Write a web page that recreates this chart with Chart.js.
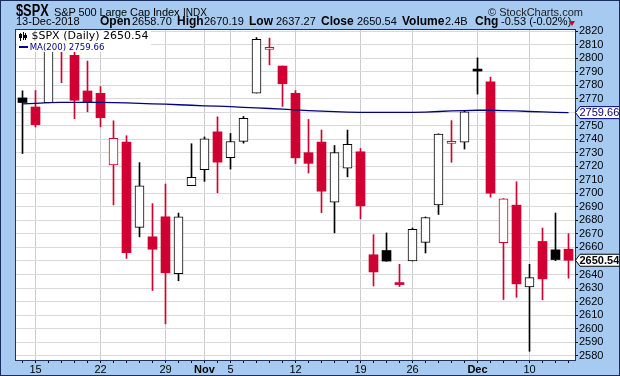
<!DOCTYPE html>
<html>
<head>
<meta charset="utf-8">
<script src="https://cdn.jsdelivr.net/npm/chart.js@4.4.1/dist/chart.umd.min.js"></script>
<style>
  html, body { margin:0; padding:0; }
  #wrap { position:relative; width:620px; height:376px; background:#a6caf0; overflow:hidden; font-family:"Liberation Sans", Arial, sans-serif; color:#000; }
  #c { position:absolute; left:0; top:0; }
  .t { position:absolute; white-space:nowrap; line-height:1; }
  .b { font-weight:bold; font-size:12px; }
  .n { font-size:11px; }
  #outer { position:absolute; left:0; top:0; width:620px; height:376px; box-sizing:border-box; border:1px solid #1c2c5c; pointer-events:none; }
  #legend { position:absolute; left:17px; top:31px; width:134px; height:21px; background:#fff; }
  .dv { font-family:"DejaVu Sans", Verdana, sans-serif; }
</style>
</head>
<body>
<div id="wrap">
  <canvas id="c" width="620" height="376"></canvas>

  <div class="t" style="left:16px;top:2.5px;font-size:16px;font-weight:bold;transform:scaleX(0.8);transform-origin:left top;">$SPX</div>
  <div class="t" style="left:54px;top:6.7px;font-size:11px;letter-spacing:-0.1px;">S&amp;P 500 Large Cap Index</div>
  <div class="t" style="left:183px;top:7.5px;font-size:10px;">INDX</div>
  <div class="t" style="left:488px;top:6.7px;font-size:11px;color:#222;">© StockCharts.com</div>

  <div class="t n" style="left:16px;top:16.2px;">13-Dec-2018</div>
  <div class="t b" style="left:100px;top:15.3px;">Open</div>
  <div class="t n" style="left:132px;top:16.2px;">2658.70</div>
  <div class="t b" style="left:177px;top:15.3px;">High</div>
  <div class="t n" style="left:204px;top:16.2px;">2670.19</div>
  <div class="t b" style="left:249px;top:15.3px;">Low</div>
  <div class="t n" style="left:276px;top:16.2px;">2637.27</div>
  <div class="t b" style="left:321px;top:15.3px;">Close</div>
  <div class="t n" style="left:357px;top:16.2px;">2650.54</div>
  <div class="t b" style="left:402px;top:15.3px;">Volume</div>
  <div class="t n" style="left:445px;top:16.2px;">2.4B</div>
  <div class="t b" style="left:475px;top:15.3px;">Chg</div>
  <div class="t n" style="left:501px;top:16.2px;">-0.53 (-0.02%)</div>
  <div style="position:absolute;left:569px;top:21px;width:0;height:0;border-left:3.5px solid transparent;border-right:3.5px solid transparent;border-top:5px solid #d00032;"></div>

  <div id="legend">
    <div style="position:absolute;left:3px;top:2px;width:1px;height:8px;background:#000;"></div>
    <div style="position:absolute;left:2px;top:3px;width:3px;height:4px;background:#000;"></div>
    <div style="position:absolute;left:6px;top:1px;width:1px;height:8px;background:#000;"></div>
    <div style="position:absolute;left:8px;top:2px;width:1px;height:7px;background:#000;"></div>
    <div style="position:absolute;left:7px;top:4px;width:3px;height:3px;background:#000;"></div>
    <div style="position:absolute;left:2px;top:15px;width:9px;height:2px;background:#000080;"></div>
  </div>
  <div class="t dv" style="left:31.5px;top:29.7px;font-size:11px;">$SPX (Daily) 2650.54</div>
  <div class="t dv" style="left:29.7px;top:43px;font-size:8.6px;color:#000080;">MA(200) 2759.66</div>

  <div id="outer"></div>
</div>
<script>
const categories = ['10-12','10-15','10-16','10-17','10-18','10-19','10-22','10-23','10-24','10-25','10-26','10-29','10-30','10-31','11-01','11-02','11-05','11-06','11-07','11-08','11-09','11-12','11-13','11-14','11-15','11-16','11-19','11-20','11-21','11-23','11-26','11-27','11-28','11-29','11-30','12-03','12-04','12-06','12-07','12-10','12-11','12-12','12-13'];
const open  = [2770.54,2763.83,2767.05,2811.67,2802.00,2775.66,2773.94,2721.03,2737.87,2674.88,2667.86,2682.65,2640.68,2705.60,2717.58,2745.45,2726.37,2738.40,2774.13,2806.38,2794.10,2773.93,2730.05,2737.90,2693.52,2718.54,2730.74,2654.60,2657.74,2633.36,2649.97,2663.75,2691.45,2736.97,2737.76,2790.50,2782.43,2663.51,2691.26,2630.86,2664.44,2658.23,2658.70];
const high  = [2775.77,2775.99,2813.46,2816.94,2806.04,2797.77,2778.94,2753.59,2742.59,2722.70,2692.38,2706.85,2685.43,2736.69,2741.67,2756.55,2744.27,2756.82,2815.15,2814.75,2794.10,2775.99,2754.60,2746.80,2735.38,2746.75,2733.16,2669.44,2670.73,2647.55,2674.35,2682.53,2744.00,2753.75,2760.88,2800.18,2785.93,2696.15,2708.54,2647.51,2674.35,2685.44,2670.19];
const low   = [2729.44,2749.03,2766.91,2781.81,2755.18,2760.27,2749.22,2691.43,2651.89,2667.84,2628.16,2603.54,2635.34,2705.60,2708.85,2700.44,2717.94,2737.08,2774.13,2794.99,2764.24,2722.00,2714.98,2685.75,2670.75,2712.16,2681.09,2631.52,2649.82,2631.09,2649.97,2655.89,2684.38,2722.94,2732.76,2773.38,2697.18,2621.53,2623.14,2583.23,2621.30,2650.26,2637.27];
const close = [2767.13,2750.79,2809.92,2809.21,2768.78,2767.78,2755.88,2740.69,2656.10,2705.57,2658.69,2641.25,2682.63,2711.74,2740.37,2723.06,2738.31,2755.45,2813.89,2806.83,2781.01,2726.22,2722.18,2701.58,2730.20,2736.27,2690.73,2641.89,2649.93,2632.56,2673.45,2682.17,2743.79,2737.80,2760.17,2790.37,2700.06,2695.95,2633.08,2637.72,2636.78,2651.07,2650.54];
const ma200 = [2766.2,2766.5,2767.0,2767.2,2767.3,2767.3,2767.2,2767.0,2766.8,2766.5,2766.2,2765.9,2765.5,2765.1,2764.7,2764.4,2764.1,2763.6,2763.2,2762.7,2762.2,2761.7,2761.2,2760.8,2760.4,2760.1,2759.9,2759.8,2759.8,2759.8,2759.9,2760.1,2760.5,2760.9,2761.2,2761.4,2761.4,2761.2,2760.9,2760.5,2760.2,2759.9,2759.66];
const prevClose = 2728.37;
const tickDays  = ['10-15','10-22','10-29','11-01','11-05','11-12','11-19','11-26','12-03','12-10'];
const tickText  = ['15','22','29','Nov','5','12','19','26','Dec','10'];
const monthText = ['Nov','Dec'];
const yTicks = { min: 2576.8, max: 2820.74, step: 10 };

const RED = '#d00032', BLACK = '#000000';
const FONT = '"Liberation Sans", Arial, sans-serif';

const colors = close.map((c, i) => c >= (i === 0 ? prevClose : close[i - 1]) ? BLACK : RED);
const filled = close.map((c, i) => c < open[i]);
const labelFor = i => { const k = tickDays.indexOf(categories[i]); return k >= 0 ? tickText[k] : ''; };

const framePlugin = {
  id: 'frame',
  beforeDraw(chart) {
    const { ctx, chartArea: a } = chart;
    ctx.save();
    ctx.fillStyle = '#ffffff';
    ctx.fillRect(a.left, a.top, a.right - a.left, a.bottom - a.top);
    ctx.restore();
  },
  afterDraw(chart) {
    const { ctx, chartArea: a } = chart;
    ctx.save();
    ctx.strokeStyle = '#22305e';
    ctx.lineWidth = 1;
    ctx.strokeRect(Math.round(a.left) - 0.5, Math.round(a.top) - 0.5, Math.round(a.right - a.left) + 1, Math.round(a.bottom - a.top) + 1);
    const y = chart.scales.y;
    const tag = (v, col, bold) => {
      const py = y.getPixelForValue(v);
      const x0 = a.right + 0.5;
      ctx.beginPath();
      ctx.moveTo(x0, py);
      ctx.lineTo(x0 + 4.5, py - 6);
      ctx.lineTo(619.5, py - 6);
      ctx.lineTo(619.5, py + 6);
      ctx.lineTo(x0 + 4.5, py + 6);
      ctx.closePath();
      ctx.fillStyle = '#fff';
      ctx.fill();
      ctx.strokeStyle = col;
      ctx.stroke();
      ctx.fillStyle = col;
      ctx.font = (bold ? 'bold ' : '') + '11px ' + FONT;
      ctx.textBaseline = 'middle';
      ctx.textAlign = 'left';
      ctx.fillText(v.toFixed(2), x0 + 4, py + 0.5);
    };
    tag(ma200[ma200.length - 1], '#000080', false);
    tag(close[close.length - 1], '#000000', true);
    ctx.restore();
  }
};

new Chart(document.getElementById('c'), {
  data: {
    labels: categories,
    datasets: [
      {
        type: 'line', label: 'MA(200)', data: ma200, borderColor: '#000080', borderWidth: 1.3,
        pointRadius: 0, tension: 0, fill: false, order: 0
      },
      {
        type: 'bar', label: 'body', grouped: false, order: 1,
        data: open.map((o, i) => [Math.min(o, close[i]), Math.max(o, close[i])]),
        backgroundColor: colors.map((c, i) => filled[i] ? c : '#ffffff'),
        borderColor: colors,
        borderWidth: filled.map(f => f ? 0 : 1),
        borderSkipped: false,
        barThickness: 9, minBarLength: 2
      },
      {
        type: 'bar', label: 'wick', grouped: false, order: 2,
        data: low.map((l, i) => [l, high[i]]),
        backgroundColor: colors, borderWidth: 0, barThickness: 1
      }
    ]
  },
  options: {
    responsive: false, animation: false, devicePixelRatio: 1, events: [],
    layout: { padding: { left: 16, top: 30, right: 0, bottom: 0 } },
    plugins: { legend: { display: false }, tooltip: { enabled: false } },
    scales: {
      x: {
        type: 'category', offset: true,
        grid: {
          offset: false,
          color: c => labelFor(c.index) ? '#cccccc' : 'rgba(0,0,0,0)',
          tickColor: '#000', tickLength: 3, lineWidth: 1
        },
        border: { display: false },
        ticks: {
          autoSkip: false, maxRotation: 0, minRotation: 0, padding: 0, color: '#000',
          font: c => ({ family: FONT, size: 11, weight: monthText.includes(labelFor(c.index)) ? 'bold' : 'normal' }),
          callback: (v, i) => labelFor(i)
        },
        afterFit: s => { s.height = 16; }
      },
      y: {
        type: 'linear', position: 'right', min: yTicks.min, max: yTicks.max,
        grid: { color: '#d9d9d9', tickColor: '#000', tickLength: 3 },
        border: { display: false },
        ticks: {
          stepSize: yTicks.step, includeBounds: false, padding: 1, color: '#000',
          autoSkip: false, maxTicksLimit: 100,
          font: { family: FONT, size: 11 },
          callback: v => String(v)
        },
        afterFit: s => { s.width = 45; }
      }
    }
  },
  plugins: [framePlugin]
});
</script>
</body>
</html>
